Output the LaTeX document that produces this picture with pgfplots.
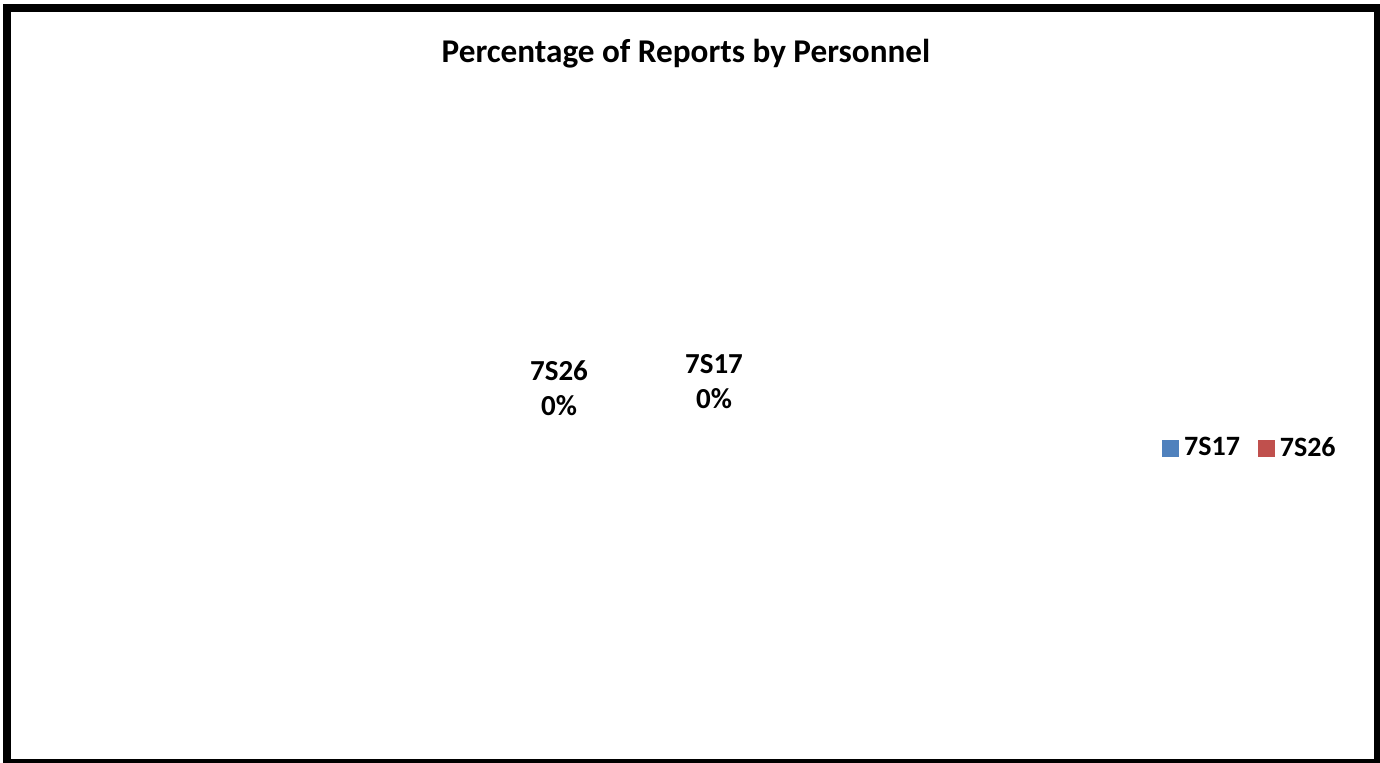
\documentclass[border=0pt]{standalone}
\usepackage{pgfplots}
\pgfplotsset{compat=1.18}
\usepackage{fontspec}
\setmainfont{Carlito}

\definecolor{xlblue}{HTML}{4F81BD}
\definecolor{xlred}{HTML}{C0504D}

% 1 px of the reference = 0.5pt
\begin{document}
\begin{tikzpicture}
\useasboundingbox (0,0) rectangle (690pt,381pt);
\begin{axis}[
    at={(0,0)}, anchor=south west,
    scale only axis,
    width=690pt, height=381pt,
    xmin=0, xmax=1380,
    ymin=0, ymax=762,
    y dir=reverse,
    hide axis,
    clip=false,
    legend style={
        at={(axis cs:1162,448)}, anchor=west,
        draw=none, fill=none,
        font=\fontsize{14}{17}\selectfont\bfseries,
        legend columns=2,
        /tikz/every even column/.append style={column sep=7pt},
        inner sep=0pt,
    },
    legend image code/.code={\fill[#1] (0pt,-4pt) rectangle (8pt,4pt);},
]
    % both shares are 0 %, so no slice is drawn: only the labels remain
    \addplot[draw=none, mark=none, forget plot,
        nodes near coords,
        point meta=explicit symbolic,
        nodes near coords style={anchor=center, align=center,
            font=\fontsize{14.5}{17.5}\selectfont\bfseries}]
        coordinates {
            (559,388) [7S26\\0\%]
            (714,382) [7S17\\0\%]
        };

    \addlegendimage{xlblue}
    \addlegendentry{\hspace{0.5pt}7S17}
    \addlegendimage{xlred}
    \addlegendentry{\hspace{0.5pt}7S26}

    \node[anchor=base, font=\fontsize{16.6}{20}\selectfont\bfseries]
        at (axis cs:686,62) {Percentage of Reports by Personnel};
\end{axis}
\draw[line width=4pt] (3.5pt,376.75pt) rectangle (689pt,-0.5pt);
\end{tikzpicture}
\end{document}
